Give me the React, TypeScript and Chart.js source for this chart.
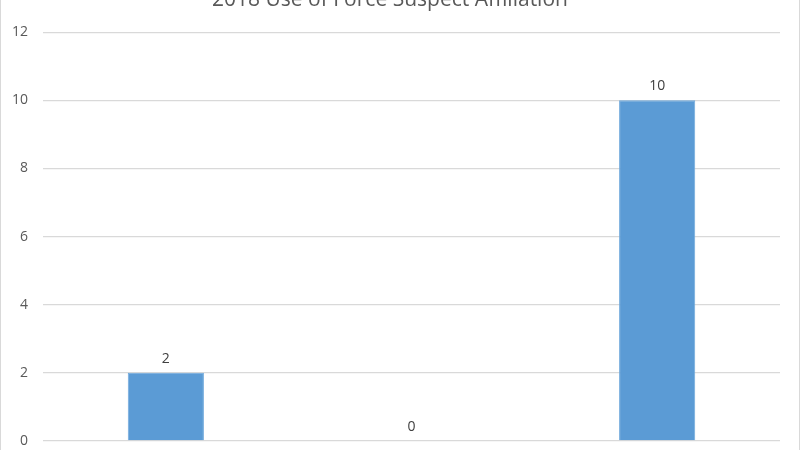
import React, { useEffect, useRef } from 'react';
import { Chart, registerables } from 'chart.js';

Chart.register(...registerables);

// values; category names fall below the crop
const categories = ['Gang', 'Unknown', 'None'];
const counts = [2, 0, 10];
const yTicks = [0, 2, 4, 6, 8, 10, 12];

const valueLabels = {
  id: 'valueLabels',
  afterDatasetsDraw(chart) {
    const ctx = chart.ctx;
    const meta = chart.getDatasetMeta(0);
    ctx.save();
    ctx.font = '14px "Open Sans", sans-serif';
    ctx.fillStyle = '#404040';
    ctx.textAlign = 'center';
    ctx.textBaseline = 'bottom';
    meta.data.forEach((bar, i) => {
      ctx.fillText(String(counts[i]), bar.x, bar.y - 7);
    });
    ctx.restore();
  },
};

export default function App() {
  const canvasRef = useRef(null);

  useEffect(() => {
    const ctx = canvasRef.current?.getContext('2d');
    const chart = new Chart(ctx, {
      type: 'bar',
      data: {
        labels: categories,
        datasets: [
          {
            data: counts,
            backgroundColor: '#5b9bd5',
            borderColor: '#6fa8dc',
            borderWidth: 1,
            categoryPercentage: 1,
            barPercentage: 0.31,
          },
        ],
      },
      options: {
        animation: false,
        responsive: true,
        maintainAspectRatio: false,
        layout: { padding: { left: 0, right: 20, top: 0, bottom: 38 } },
        plugins: {
          legend: { display: false },
          tooltip: { enabled: false },
          title: {
            display: true,
            text: '2018 Use of Force Suspect Affiliation',
            color: '#595959',
            font: { family: '"Open Sans", sans-serif', size: 21, weight: 'normal' },
            padding: { top: 0, bottom: 20 },
          },
        },
        scales: {
          x: {
            grid: { display: false },
            border: { display: false },
            ticks: { display: false },
          },
          y: {
            min: 0,
            max: 12,
            afterBuildTicks: (scale) => {
              scale.ticks = yTicks.map((v) => ({ value: v }));
            },
            afterFit: (scale) => {
              scale.width = 43;
            },
            grid: { color: '#d9d9d9', lineWidth: 1.3, drawTicks: false },
            border: { display: false },
            ticks: {
              color: '#595959',
              padding: 15,
              font: { family: '"Open Sans", sans-serif', size: 14 },
            },
          },
        },
      },
      plugins: [valueLabels],
    });
    return () => {
      chart.destroy();
    };
  }, []);

  return (
    <div
      style={{
        position: 'fixed',
        left: 0,
        top: 0,
        width: 800,
        height: 450,
        overflow: 'hidden',
        background: '#fff',
        boxSizing: 'border-box',
        borderLeft: '1px solid #d9d9d9',
        borderRight: '1px solid #d9d9d9',
      }}
    >
      <div style={{ position: 'absolute', left: -1, top: -13, width: 800, height: 500 }}>
        <canvas ref={canvasRef} />
      </div>
    </div>
  );
}
